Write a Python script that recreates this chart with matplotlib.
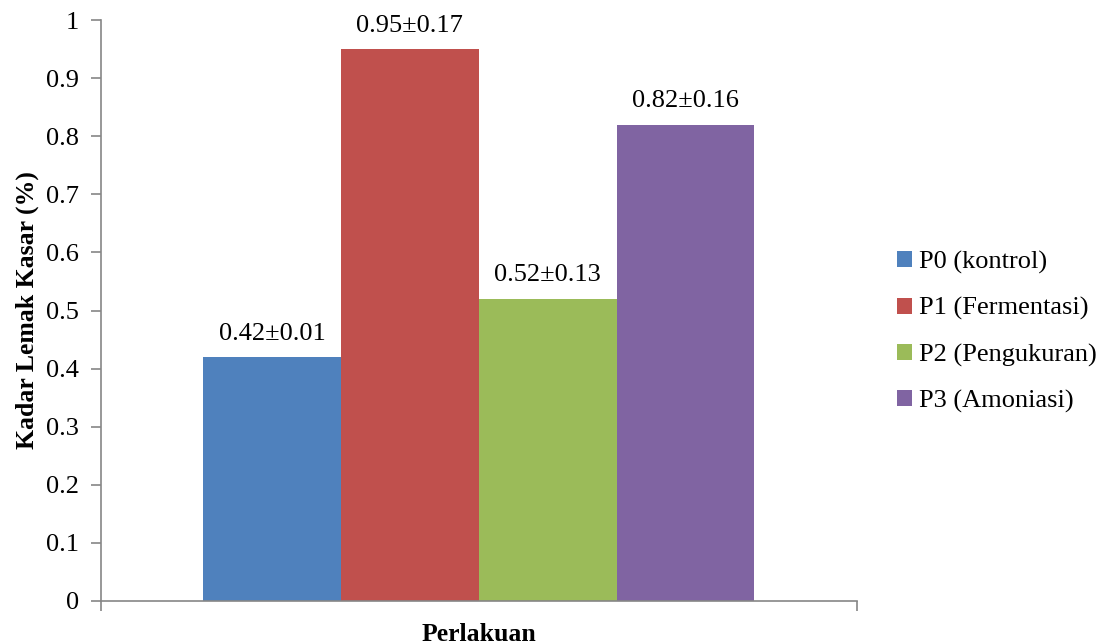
import matplotlib.pyplot as plt
import numpy as np

plt.rcParams['font.family'] = ['Liberation Serif', 'DejaVu Serif']

treatments = ["P0 (kontrol)", "P1 (Fermentasi)", "P2 (Pengukuran)", "P3 (Amoniasi)"]
fat_mean = [0.42, 0.95, 0.52, 0.82]
fat_sd = [0.01, 0.17, 0.13, 0.16]
bar_colors = ["#4F81BD", "#C0504D", "#9BBB59", "#8064A2"]

fig = plt.figure(figsize=(11.04, 6.44), dpi=100)
ax = fig.add_axes([0.0915, 0.0668, 0.6848, 0.902])

x = np.arange(len(treatments))
bars = ax.bar(x, fat_mean, width=1.0, color=bar_colors, label=treatments)

for xi, m, s in zip(x, fat_mean, fat_sd):
    ax.annotate(f"{m:.2f}±{s:.2f}", (xi, m), xytext=(0, 9), textcoords="offset points",
                ha="center", va="bottom", fontsize=19)

ax.set_xlim(-1.241, 4.245)
ax.set_ylim(0, 1)
ax.set_yticks(np.arange(0, 1.01, 0.1))
ax.set_yticklabels(["0"] + [f"{v:.1f}" for v in np.arange(0.1, 0.95, 0.1)] + ["1"])
ax.set_xticks([-1.241, 4.245])
ax.set_xticklabels(["", ""])

for side in ["top", "right"]:
    ax.spines[side].set_visible(False)
for side in ["left", "bottom"]:
    ax.spines[side].set_color("#868686")
    ax.spines[side].set_linewidth(1.2)
ax.tick_params(axis="both", direction="out", length=7, width=1.2, color="#868686",
               labelsize=19, pad=9)

ax.set_ylabel("Kadar Lemak Kasar (%)", fontsize=18.5, fontweight="bold", labelpad=5)
ax.set_xlabel("Perlakuan", fontsize=18.5, fontweight="bold", labelpad=0)

ax.legend(loc="center left", bbox_to_anchor=(1.022, 0.463), frameon=False, fontsize=19,
          handlelength=0.55, handleheight=0.55, handletextpad=0.25, labelspacing=0.88)

fig.savefig("out.png", dpi=100)
